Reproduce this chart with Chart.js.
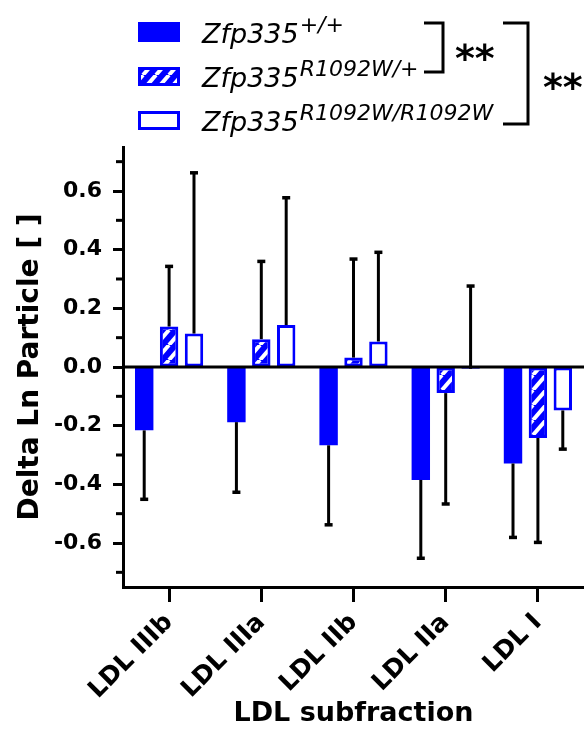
<!DOCTYPE html>
<html>
<head>
<meta charset="utf-8">
<script src="https://cdn.jsdelivr.net/npm/chart.js@4.4.1/dist/chart.umd.min.js"></script>
<style>
  html, body { margin: 0; padding: 0; background: #fff; }
  #wrap { position: relative; width: 584px; height: 746px; }
</style>
</head>
<body>
<div id="wrap"><canvas id="ldlChart"></canvas></div>
<script>
// data
const categories = ['LDL IIIb', 'LDL IIIa', 'LDL IIb', 'LDL IIa', 'LDL I'];
const seriesNames = ['Zfp335', 'Zfp335', 'Zfp335'];
const seriesSup = ['+/+', 'R1092W/+', 'R1092W/R1092W'];

const wildType = [-0.216, -0.188, -0.267, -0.385, -0.329];
const wildTypeErr = [-0.451, -0.427, -0.538, -0.652, -0.581];
const hetero = [0.138, 0.095, 0.032, -0.089, -0.242];
const heteroErr = [0.343, 0.360, 0.368, -0.467, -0.598];
const homo = [0.114, 0.143, 0.087, -0.006, -0.148];
const homoErr = [0.662, 0.577, 0.391, 0.276, -0.280];

const yMajorTicks = [-0.6, -0.4, -0.2, 0.0, 0.2, 0.4, 0.6];
const yMinorTicks = [-0.7, -0.5, -0.3, -0.1, 0.1, 0.3, 0.5, 0.7];

const BLUE = '#0000ff';
const FONT = 'DejaVu Sans';

Chart.defaults.font.family = FONT;
Chart.defaults.color = '#000';

// diagonal white stripes on blue
function makeHatch() {
    const w = 13, h = 15;
    const c = document.createElement('canvas');
    c.width = w; c.height = h;
    const g = c.getContext('2d');
    g.fillStyle = BLUE;
    g.fillRect(0, 0, w, h);
    g.strokeStyle = '#fff';
    g.lineWidth = 4;
    [-w, 0, w].forEach(dx => {
        g.beginPath();
        g.moveTo(dx, h);
        g.lineTo(dx + w, 0);
        g.stroke();
    });
    return g.createPattern(c, 'repeat');
}
const hatch = makeHatch();

// error bars, zero line and minor ticks
const extrasPlugin = {
    id: 'extras',
    afterDatasetsDraw(chart) {
        const ctx = chart.ctx;
        const y = chart.scales.y;
        const area = chart.chartArea;
        ctx.save();
        ctx.strokeStyle = '#000';
        ctx.lineCap = 'butt';

        chart.data.datasets.forEach((ds, i) => {
            const meta = chart.getDatasetMeta(i);
            meta.data.forEach((bar, j) => {
                const y1 = y.getPixelForValue(ds.data[j]);
                const y2 = y.getPixelForValue(ds.errEnd[j]);
                ctx.lineWidth = 3;
                ctx.beginPath();
                ctx.moveTo(bar.x, y1);
                ctx.lineTo(bar.x, y2);
                ctx.stroke();
                ctx.lineWidth = 3.5;
                ctx.beginPath();
                ctx.moveTo(bar.x - 4, y2);
                ctx.lineTo(bar.x + 4, y2);
                ctx.stroke();
            });
        });

        // zero line
        const y0 = y.getPixelForValue(0);
        ctx.lineWidth = 3;
        ctx.beginPath();
        ctx.moveTo(area.left, y0);
        ctx.lineTo(area.right, y0);
        ctx.stroke();

        // minor ticks
        yMinorTicks.forEach(v => {
            const py = y.getPixelForValue(v);
            ctx.beginPath();
            ctx.moveTo(area.left - 7, py);
            ctx.lineTo(area.left, py);
            ctx.stroke();
        });
        ctx.restore();
    }
};

// legend with superscripts and significance brackets
const legendPlugin = {
    id: 'zfpLegend',
    afterDraw(chart) {
        const ctx = chart.ctx;
        ctx.save();
        const swatchX = 138, swatchW = 42;
        const rows = [
            { top: 22, h: 20, base: 43 },
            { top: 67, h: 19, base: 87 },
            { top: 111, h: 19, base: 131 }
        ];
        chart.data.datasets.forEach((ds, i) => {
            const r = rows[i];
            if (i === 0) {
                ctx.fillStyle = BLUE;
                ctx.fillRect(swatchX, r.top, swatchW, r.h);
            } else {
                ctx.fillStyle = i === 1 ? hatch : '#fff';
                ctx.fillRect(swatchX, r.top, swatchW, r.h);
                ctx.strokeStyle = BLUE;
                ctx.lineWidth = 3;
                ctx.strokeRect(swatchX + 1.5, r.top + 1.5, swatchW - 3, r.h - 3);
            }
            ctx.fillStyle = '#000';
            ctx.textBaseline = 'alphabetic';
            ctx.textAlign = 'left';
            ctx.font = 'italic 27px ' + FONT;
            ctx.fillText(seriesNames[i], 202, r.base);
            const w = ctx.measureText(seriesNames[i]).width;
            ctx.font = 'italic 22px ' + FONT;
            ctx.fillText(seriesSup[i], 202 + w + 1, r.base - 11);
        });

        ctx.strokeStyle = '#000';
        ctx.lineWidth = 3;
        ctx.beginPath();
        ctx.moveTo(424, 23); ctx.lineTo(443, 23); ctx.lineTo(443, 72); ctx.lineTo(424, 72);
        ctx.stroke();
        ctx.beginPath();
        ctx.moveTo(503, 23); ctx.lineTo(528, 23); ctx.lineTo(528, 124); ctx.lineTo(503, 124);
        ctx.stroke();

        ctx.fillStyle = '#000';
        ctx.font = 'bold 38px ' + FONT;
        ctx.fillText('**', 455, 71);
        ctx.fillText('**', 543, 100);
        ctx.restore();
    }
};

const ctx = document.getElementById('ldlChart').getContext('2d');

const ldlChart = new Chart(ctx, {
    type: 'bar',
    data: {
        labels: categories,
        datasets: [
            {
                label: seriesNames[0] + seriesSup[0],
                data: wildType,
                errEnd: wildTypeErr,
                backgroundColor: BLUE,
                borderWidth: 0
            },
            {
                label: seriesNames[1] + seriesSup[1],
                data: hetero,
                errEnd: heteroErr,
                backgroundColor: hatch,
                borderColor: BLUE,
                borderWidth: 3,
                borderSkipped: false
            },
            {
                label: seriesNames[2] + seriesSup[2],
                data: homo,
                errEnd: homoErr,
                backgroundColor: '#fff',
                borderColor: BLUE,
                borderWidth: 3,
                borderSkipped: false
            }
        ]
    },
    options: {
        responsive: true,
        maintainAspectRatio: false,
        animation: false,
        categoryPercentage: 0.81,
        barPercentage: 0.74,
        layout: { padding: { top: 147, left: 0, right: 0, bottom: 0 } },
        plugins: {
            legend: { display: false },
            tooltip: { enabled: false }
        },
        scales: {
            x: {
                afterFit: scale => { scale.height = 159; },
                grid: {
                    display: true,
                    drawOnChartArea: false,
                    offset: false,
                    tickLength: 15,
                    tickWidth: 3,
                    tickColor: '#000'
                },
                border: { display: true, color: '#000', width: 3 },
                ticks: {
                    maxRotation: 45,
                    minRotation: 45,
                    autoSkip: false,
                    padding: 6,
                    font: { size: 25, weight: 'bold' }
                },
                title: {
                    display: true,
                    text: 'LDL subfraction',
                    font: { size: 27, weight: 'bold' },
                    padding: { top: 0, bottom: 16 }
                }
            },
            y: {
                min: -0.75,
                max: 0.75,
                afterFit: scale => { scale.width = 123; },
                afterBuildTicks: scale => {
                    scale.ticks = yMajorTicks.map(v => ({ value: v }));
                },
                grid: {
                    display: true,
                    drawOnChartArea: false,
                    tickLength: 10,
                    tickWidth: 3,
                    tickColor: '#000'
                },
                border: { display: true, color: '#000', width: 3 },
                ticks: {
                    padding: 11,
                    font: { size: 22, weight: 'bold' },
                    callback: v => Number(v).toFixed(1)
                },
                title: {
                    display: true,
                    text: 'Delta Ln Particle [ ]',
                    font: { size: 28, weight: 'bold' },
                    padding: { top: 14, bottom: 0 }
                }
            }
        }
    },
    plugins: [extrasPlugin, legendPlugin]
});
</script>
</body>
</html>
